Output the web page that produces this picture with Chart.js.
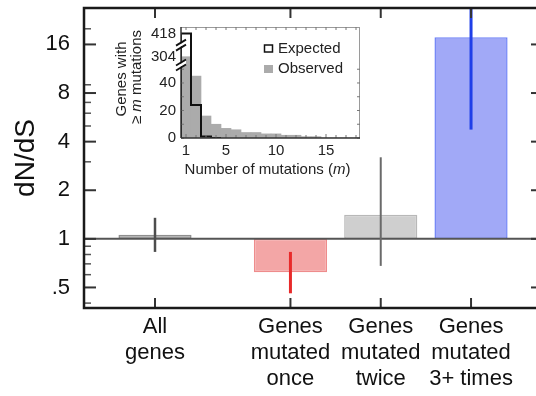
<!DOCTYPE html>
<html>
<head>
<meta charset="utf-8">
<script src="https://cdn.jsdelivr.net/npm/chart.js@4.4.0/dist/chart.umd.min.js"></script>
<style>
  html, body { margin: 0; padding: 0; background: #fff; overflow: hidden; }
  #wrap { position: relative; width: 546px; height: 396px; }
  #main { position: absolute; left: 0; top: 0; }
  #inset { position: absolute; left: 100px; top: 15px; }
</style>
</head>
<body>
<div id="wrap">
  <canvas id="main" width="546" height="396"></canvas>
  <canvas id="inset" width="270" height="175"></canvas>
</div>
<script>
// main panel: dN/dS per gene group
const groupLabels = [['All', 'genes'], ['Genes', 'mutated', 'once'], ['Genes', 'mutated', 'twice'], ['Genes', 'mutated', '3+ times']];
const groupPos = [1, 2.5, 3.5, 4.5];
const dnds = [1.06, 0.62, 1.41, 17.7];
const errLow = [0.83, 0.46, 0.68, 4.75];
const errHigh = [1.35, 0.83, 3.2, 40];
const yMajorTicks = [0.5, 1, 2, 4, 8, 16];
const yTickLabels = ['.5', '1', '2', '4', '8', '16'];
const yMinorTicks = [0.4, 0.6, 0.7, 0.8, 0.9, 3, 5, 6, 7, 9, 20];

const barFill = ['#a8a8a8', '#f3a6a6', '#cfcfcf', '#a1a9f7'];
const barEdge = ['#8e8e8e', '#ee8c8c', '#b8b8b8', '#7083f6'];
const errColor = ['#4d4d4d', '#e82a2a', '#6a6a6a', '#1f3fe8'];
const errWidth = [2.5, 3, 2, 3];

// inset: genes with >= m mutations
const mutCounts = [1, 2, 3, 4, 5, 6, 7, 8, 9, 10, 11, 12, 13, 14, 15, 16, 17, 18];
const observed = [304, 45, 16, 10, 7, 6, 4, 4, 3, 3, 2, 2, 1, 1, 0, 0, 0, 0];
const expected = [418, 24, 1, 0, 0, 0, 0, 0, 0, 0, 0, 0, 0, 0, 0, 0, 0, 0];
const insetYTicks = [0, 20, 40, 304, 418];
const insetXTicks = [1, 5, 10, 15];

const FONT = '"Liberation Sans", Arial, Helvetica, sans-serif';

// broken y axis of the inset: linear up to 40s, compressed above the break
function brk(v) {
  return v <= 100 ? v : 59.1 + (v - 304) * 0.1474;
}

function line(ctx, x1, y1, x2, y2) {
  ctx.beginPath();
  ctx.moveTo(x1, y1);
  ctx.lineTo(x2, y2);
  ctx.stroke();
}

function noPad(s) {
  s.paddingTop = 0;
  s.paddingBottom = 0;
  s.paddingLeft = 0;
  s.paddingRight = 0;
}

const mainDecor = {
  id: 'mainDecor',
  afterDatasetsDraw(chart) {
    const { ctx, chartArea: a, scales: { x, y } } = chart;
    ctx.save();
    ctx.beginPath();
    ctx.rect(a.left, a.top, a.right - a.left, a.bottom - a.top);
    ctx.clip();
    // reference line at dN/dS = 1
    const y1 = y.getPixelForValue(1);
    ctx.strokeStyle = '#555';
    ctx.lineWidth = 2;
    line(ctx, a.left, y1, a.right, y1);
    // error bars
    groupPos.forEach((p, i) => {
      const px = x.getPixelForValue(p);
      ctx.strokeStyle = errColor[i];
      ctx.lineWidth = errWidth[i];
      line(ctx, px, y.getPixelForValue(errHigh[i]), px, y.getPixelForValue(errLow[i]));
    });
    ctx.restore();

    // inward ticks
    ctx.save();
    ctx.strokeStyle = '#333';
    ctx.lineWidth = 2;
    yMajorTicks.forEach(v => {
      const py = y.getPixelForValue(v);
      line(ctx, a.left, py, a.left + 12, py);
      line(ctx, a.right, py, a.right - 12, py);
    });
    ctx.lineWidth = 1.5;
    ctx.strokeStyle = '#555';
    yMinorTicks.forEach(v => {
      const py = y.getPixelForValue(v);
      line(ctx, a.left, py, a.left + 7, py);
    });
    ctx.lineWidth = 2;
    ctx.strokeStyle = '#333';
    groupPos.forEach(p => {
      const px = x.getPixelForValue(p);
      line(ctx, px, a.bottom, px, a.bottom - 10);
      line(ctx, px, a.top, px, a.top + 10);
    });
    // frame
    ctx.strokeStyle = '#1a1a1a';
    ctx.lineWidth = 2.5;
    ctx.strokeRect(a.left, a.top, a.right - a.left, a.bottom - a.top);
    ctx.restore();
  }
};

new Chart(document.getElementById('main'), {
  type: 'bar',
  data: {
    datasets: [{
      data: groupPos.map((p, i) => ({ x: p, y: [1, dnds[i]] })),
      backgroundColor: barFill,
      borderColor: barEdge,
      borderWidth: 1.5,
      borderSkipped: false,
      barPercentage: 0.81,
      categoryPercentage: 1
    }]
  },
  options: {
    responsive: false,
    animation: false,
    layout: { padding: { top: 8, right: 3, left: 0, bottom: 0 } },
    plugins: { legend: { display: false }, tooltip: { enabled: false } },
    scales: {
      x: {
        type: 'linear',
        offset: false,
        min: 0.2137,
        max: 5.297,
        grid: { display: false, drawTicks: false },
        border: { display: false },
        afterBuildTicks: s => { s.ticks = groupPos.map(v => ({ value: v })); },
        afterFit: s => { s.height = 88; noPad(s); },
        ticks: {
          autoSkip: false,
          maxRotation: 0,
          padding: 6,
          color: '#111',
          font: { family: FONT, size: 22, lineHeight: 1.18 },
          callback: v => groupLabels[groupPos.indexOf(v)]
        }
      },
      y: {
        type: 'logarithmic',
        min: 0.373,
        max: 26.9,
        grid: { display: false, drawTicks: false },
        border: { display: false },
        afterBuildTicks: s => {
          s.ticks = yMajorTicks.concat(yMinorTicks).sort((p, q) => p - q).map(v => ({ value: v }));
        },
        afterFit: s => { s.width = 84; noPad(s); },
        ticks: {
          autoSkip: false,
          padding: 14,
          color: '#111',
          font: { family: FONT, size: 22 },
          callback: v => {
            const i = yMajorTicks.indexOf(v);
            return i >= 0 ? yTickLabels[i] : '';
          }
        },
        title: {
          display: true,
          text: 'dN/dS',
          color: '#111',
          font: { family: FONT, size: 28 },
          padding: { top: 9, bottom: 0 }
        }
      }
    }
  },
  plugins: [mainDecor]
});

// text with an italic "m" inside
function drawMixed(ctx, parts, cx, cy, size) {
  let total = 0;
  parts.forEach(p => {
    ctx.font = (p[1] ? 'italic ' : '') + size + 'px ' + FONT;
    total += ctx.measureText(p[0]).width;
  });
  let xx = cx - total / 2;
  ctx.textAlign = 'left';
  ctx.textBaseline = 'middle';
  parts.forEach(p => {
    ctx.font = (p[1] ? 'italic ' : '') + size + 'px ' + FONT;
    ctx.fillText(p[0], xx, cy);
    xx += ctx.measureText(p[0]).width;
  });
}

const insetDecor = {
  id: 'insetDecor',
  afterDraw(chart) {
    const { ctx, chartArea: a, scales: { x, y } } = chart;
    ctx.save();
    // light top / right frame
    ctx.strokeStyle = '#9a9a9a';
    ctx.lineWidth = 1;
    line(ctx, a.left, a.top + 0.5, a.right, a.top + 0.5);
    line(ctx, a.right - 0.5, a.top, a.right - 0.5, a.bottom);
    // ticks
    ctx.strokeStyle = '#777';
    mutCounts.forEach(m => {
      const px = x.getPixelForValue(m);
      const len = insetXTicks.includes(m) ? 4 : 3;
      line(ctx, px, a.bottom, px, a.bottom - len);
      line(ctx, px, a.top, px, a.top + 3);
    });
    [0, 10, 20, 30, 40, 50].forEach(v => {
      const py = y.getPixelForValue(v);
      line(ctx, a.left, py, a.left + 3, py);
      line(ctx, a.right, py, a.right - 3, py);
    });
    // dark left / bottom axes
    ctx.strokeStyle = '#333';
    ctx.lineWidth = 1.5;
    line(ctx, a.left, a.top, a.left, a.bottom);
    line(ctx, a.left, a.bottom, a.right, a.bottom);
    // axis break marks
    [y.getPixelForValue(67.9), y.getPixelForValue(53.5)].forEach(py => {
      ctx.fillStyle = '#fff';
      ctx.beginPath();
      ctx.moveTo(a.left - 5, py + 2);
      ctx.lineTo(a.left + 5, py - 4);
      ctx.lineTo(a.left + 5, py - 1);
      ctx.lineTo(a.left - 5, py + 5);
      ctx.closePath();
      ctx.fill();
      ctx.strokeStyle = '#111';
      ctx.lineWidth = 1.8;
      line(ctx, a.left - 5, py + 1, a.left + 5, py - 5);
      line(ctx, a.left - 5, py + 6, a.left + 5, py);
    });
    // legend
    const ds = chart.data.datasets;
    ctx.font = '15px ' + FONT;
    ctx.textAlign = 'left';
    ctx.textBaseline = 'middle';
    ctx.fillStyle = '#222';
    ctx.strokeStyle = '#111';
    ctx.lineWidth = 1.5;
    ctx.strokeRect(164.5, 30, 8, 7);
    ctx.fillText(ds[0].label, 178, 33.5);
    ctx.fillStyle = ds[1].backgroundColor;
    ctx.fillRect(164, 50, 9, 8);
    ctx.fillStyle = '#222';
    ctx.fillText(ds[1].label, 178, 54);
    // axis titles
    drawMixed(ctx, [['Number of mutations (', false], ['m', true], [')', false]], (a.left + a.right) / 2 - 3, 155, 15);
    ctx.save();
    ctx.translate(22, 64);
    ctx.rotate(-Math.PI / 2);
    drawMixed(ctx, [['Genes with', false]], 0, 0, 15);
    ctx.restore();
    ctx.save();
    ctx.translate(37, 62);
    ctx.rotate(-Math.PI / 2);
    drawMixed(ctx, [['\u2265 ', false], ['m', true], [' mutations', false]], 0, 0, 15);
    ctx.restore();
    ctx.restore();
  }
};

const lastExp = expected.findLastIndex(v => v > 0) + 1;
const expLine = [{ x: mutCounts[0] - 0.5, y: 0 }].concat(
  mutCounts.slice(0, lastExp + 1).map((m, i) => ({ x: m + 0.5, y: brk(expected[i]) }))
);

new Chart(document.getElementById('inset'), {
  type: 'bar',
  data: {
    datasets: [
      {
        type: 'line',
        label: 'Expected',
        data: expLine,
        stepped: 'after',
        borderColor: '#111',
        borderWidth: 2,
        pointRadius: 0,
        fill: false,
        order: 0
      },
      {
        type: 'bar',
        label: 'Observed',
        data: mutCounts.map((m, i) => ({ x: m, y: brk(observed[i]) })),
        backgroundColor: '#ababab',
        borderWidth: 0,
        barPercentage: 1,
        categoryPercentage: 1,
        order: 1
      }
    ]
  },
  options: {
    responsive: false,
    animation: false,
    layout: { padding: { top: 12, right: 10, left: 0, bottom: 0 } },
    plugins: { legend: { display: false }, tooltip: { enabled: false } },
    scales: {
      x: {
        type: 'linear',
        offset: false,
        min: 0.5,
        max: 18.4,
        grid: { display: false, drawTicks: false },
        border: { display: false },
        afterBuildTicks: s => { s.ticks = insetXTicks.map(v => ({ value: v })); },
        afterFit: s => { s.height = 52; noPad(s); },
        ticks: {
          autoSkip: false,
          maxRotation: 0,
          padding: 4,
          color: '#222',
          font: { family: FONT, size: 15 }
        }
      },
      y: {
        type: 'linear',
        min: 0,
        max: 80.7,
        grid: { display: false, drawTicks: false },
        border: { display: false },
        afterBuildTicks: s => { s.ticks = insetYTicks.map(v => ({ value: brk(v) })); },
        afterFit: s => { s.width = 81; noPad(s); },
        ticks: {
          autoSkip: false,
          padding: 5,
          color: '#222',
          font: { family: FONT, size: 15 },
          callback: (v, i) => String(insetYTicks[i])
        }
      }
    }
  },
  plugins: [insetDecor]
});
</script>
</body>
</html>
